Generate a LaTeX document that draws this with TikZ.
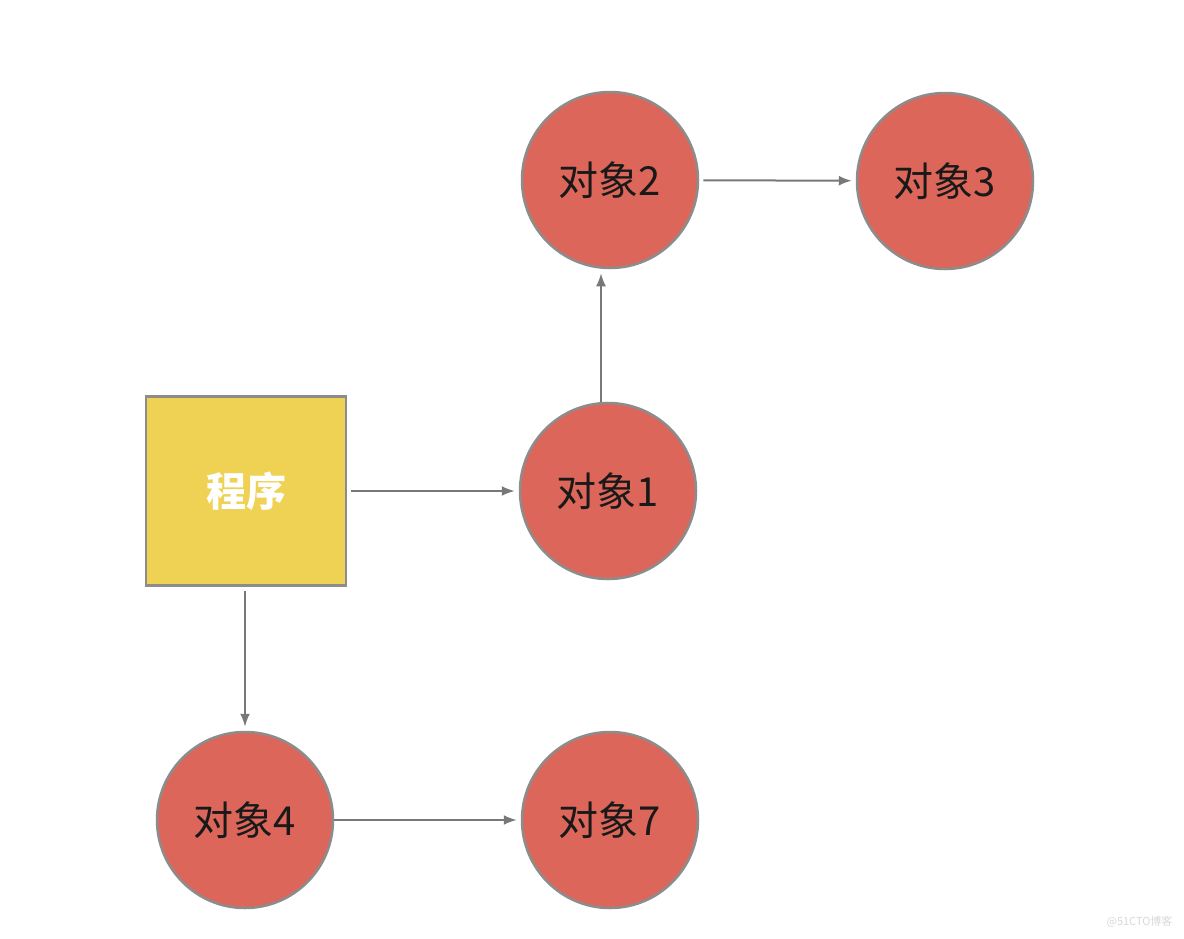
\documentclass[tikz,border=0pt]{standalone}
\usepackage{fontspec}
\usepackage{xcolor}
\usepackage{tikz}
\usetikzlibrary{arrows.meta}
\newfontfamily\cjk{Noto Sans CJK SC}
\definecolor{objred}{RGB}{221,102,90}
\definecolor{progyellow}{RGB}{239,209,84}
\definecolor{rimgray}{RGB}{140,140,140}
\definecolor{linkgray}{RGB}{120,120,120}
\tikzset{
  obj/.style={circle, draw=rimgray, line width=2.5pt, fill=objred, minimum size=176pt, inner sep=0pt,
    font=\cjk\fontsize{40}{46}\selectfont, text=black!90},
  prog/.style={rectangle, draw=rimgray, line width=2.5pt, fill=progyellow, minimum width=200pt, minimum height=189pt,
    font=\cjk\bfseries\fontsize{40}{46}\selectfont, text=white},
  link/.style={line width=2pt, linkgray, -{Latex[length=13pt,width=10pt]}, shorten <=4pt, shorten >=4pt},
}

\begin{document}
\begin{tikzpicture}[x=1pt,y=-1pt]
\useasboundingbox[fill=white] (0,0) rectangle (1184,938);
\node[prog] (prog) at (246,491) {程序};
\node[obj] (obj1) at (608,491) {对象1};
\node[obj] (obj2) at (610,180) {对象2};
\node[obj] (obj3) at (945,181) {对象3};
\node[obj] (obj4) at (245,820) {对象4};
\node[obj] (obj7) at (610,820) {对象7};
\draw[link] (prog) -- (obj1);
\draw[link, shorten <=0pt] ([xshift=-7pt]obj1.north) -- ([xshift=-9pt]obj2.south);
\draw[link] (obj2) -- (obj3);
\draw[link] (prog.south -| obj4) -- (obj4);
\draw[link, shorten <=0pt] (obj4) -- (obj7);
\node[anchor=east, text=black!15, font=\cjk\fontsize{11}{13}\selectfont] (mark) at (1176,922) {@51CTO博客};
\end{tikzpicture}
\end{document}
